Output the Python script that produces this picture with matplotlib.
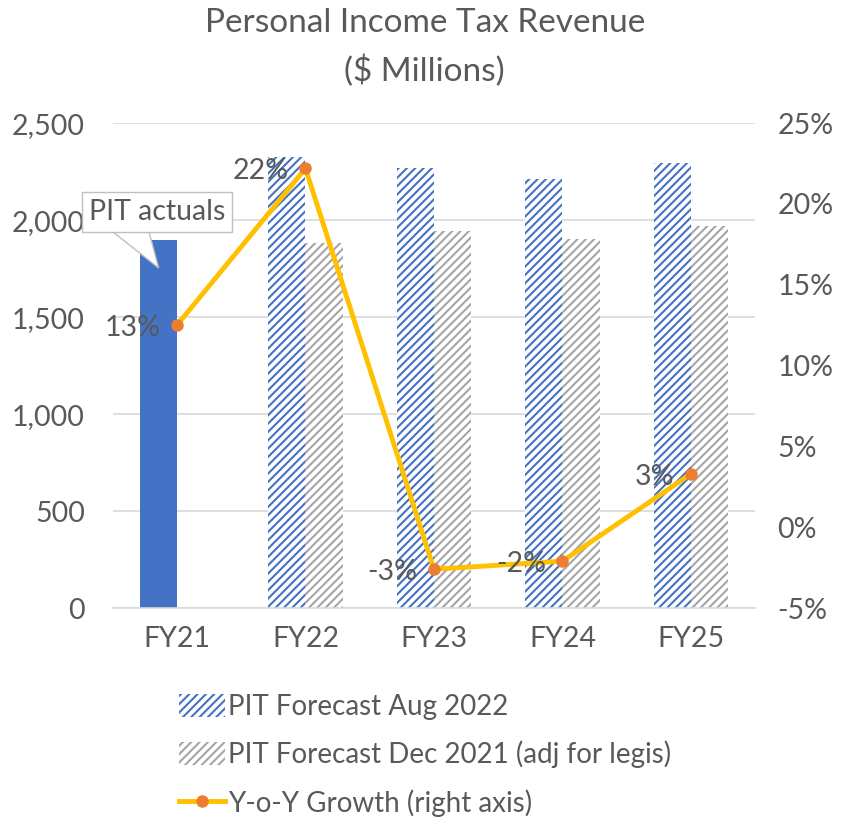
import matplotlib
matplotlib.use("Agg")
import matplotlib.pyplot as plt
import numpy as np
from matplotlib.patches import Patch, Polygon
from matplotlib.lines import Line2D

plt.rcParams['font.family'] = ['Lato', 'DejaVu Sans']
plt.rcParams['hatch.linewidth'] = 1.5

categories = ["FY21", "FY22", "FY23", "FY24", "FY25"]
pit_actuals = [1897, None, None, None, None]
forecast_aug22 = [None, 2325, 2268, 2211, 2294]
forecast_dec21 = [None, 1881, 1943, 1902, 1969]
yoy_growth = [12.5, 22.2, -2.6, -2.1, 3.3]
yoy_labels = ["13%", "22%", "-3%", "-2%", "3%"]

left_ticks = [0, 500, 1000, 1500, 2000, 2500]
right_ticks = [-5, 0, 5, 10, 15, 20, 25]

TXT = "#595959"
BLUE = "#4472C4"
GRAY = "#A5A5A5"
GOLD = "#FFC000"
ORANGE = "#ED7D31"
FS = 20.5

fig = plt.figure(figsize=(8.41, 8.21), dpi=100)
ax = fig.add_axes([0.134, 0.2594, 0.764, 0.5906])
ax2 = ax.twinx()

x = np.arange(len(categories))
w = 0.29

def vals(lst):
    return [np.nan if v is None else v for v in lst]

ax.bar(x - w/2, vals(pit_actuals), w, color=BLUE, zorder=2)
ax.bar(x - w/2, vals(forecast_aug22), w, facecolor="white", edgecolor=BLUE,
       hatch="////", linewidth=0, zorder=2)
ax.bar(x + w/2, vals(forecast_dec21), w, facecolor="white", edgecolor=GRAY,
       hatch="////", linewidth=0, zorder=2)

ax.set_xlim(-0.5, len(categories) - 0.5)
ax.set_ylim(0, 2500)
ax.set_yticks(left_ticks)
ax.set_yticklabels([f"{t:,}" for t in left_ticks])
ax.set_xticks(x)
ax.set_xticklabels(categories)
ax.yaxis.grid(True, color="#D9D9D9", linewidth=1.2, zorder=0)
ax.set_axisbelow(True)
for s in ["top", "left", "right"]:
    ax.spines[s].set_visible(False)
ax.spines["bottom"].set_color("#D9D9D9")
ax.spines["bottom"].set_linewidth(1.2)
ax.tick_params(axis="both", length=0, labelsize=FS, colors=TXT)
ax.tick_params(axis="y", pad=20)
ax.tick_params(axis="x", pad=13)

ax2.plot(x, yoy_growth, color=GOLD, linewidth=3.5, marker="o",
         markersize=8, markerfacecolor=ORANGE, markeredgecolor=ORANGE, zorder=3)
ax2.set_ylim(-5, 25)
ax2.set_yticks(right_ticks)
ax2.set_yticklabels([f"{t}%" for t in right_ticks])
for s in ["top", "left", "right", "bottom"]:
    ax2.spines[s].set_visible(False)
ax2.tick_params(axis="y", length=0, labelsize=FS, colors=TXT, pad=16)

for xi, yv, lab in zip(x, yoy_growth, yoy_labels):
    ax2.annotate(lab, (xi, yv), xytext=(-12, -2),
                 textcoords="offset points", ha="right", va="center",
                 fontsize=FS, color=TXT, zorder=4)

# callout pointer (triangle from box bottom to top of FY21 bar)
pointer = Polygon([(-0.538, 1960), (-0.226, 1960), (-w/2 + 0.003, 1753)],
                  closed=True, fc="white", ec="#BFBFBF", lw=1,
                  zorder=4, clip_on=False, transform=ax.transData)
ax.add_patch(pointer)
ax.text(-0.156, 2041, "PIT actuals", ha="center", va="center", fontsize=FS,
        color=TXT, zorder=5,
        bbox=dict(boxstyle="square,pad=0.25", fc="white", ec="#BFBFBF", lw=1))

fig.text(0.505, 0.972, "Personal Income Tax Revenue", ha="center", va="center",
         fontsize=24, color=TXT)
fig.text(0.505, 0.914, "($ Millions)", ha="center", va="center",
         fontsize=24, color=TXT)

handles = [
    Patch(facecolor="white", edgecolor=BLUE, hatch="////", linewidth=0),
    Patch(facecolor="white", edgecolor=GRAY, hatch="////", linewidth=0),
    Line2D([0], [0], color=GOLD, linewidth=3.5, marker="o", markersize=8,
           markerfacecolor=ORANGE, markeredgecolor=ORANGE),
]
labels = ["PIT Forecast Aug 2022", "PIT Forecast Dec 2021 (adj for legis)",
          "Y-o-Y Growth (right axis)"]
fig.legend(handles, labels, loc="upper left", bbox_to_anchor=(0.2, 0.168),
           frameon=False, fontsize=FS - 0.5, labelcolor=TXT, handlelength=1.65,
           handletextpad=0.12, labelspacing=0.74, handleheight=0.9,
           borderaxespad=0)

fig.savefig("out.png", dpi=100)
